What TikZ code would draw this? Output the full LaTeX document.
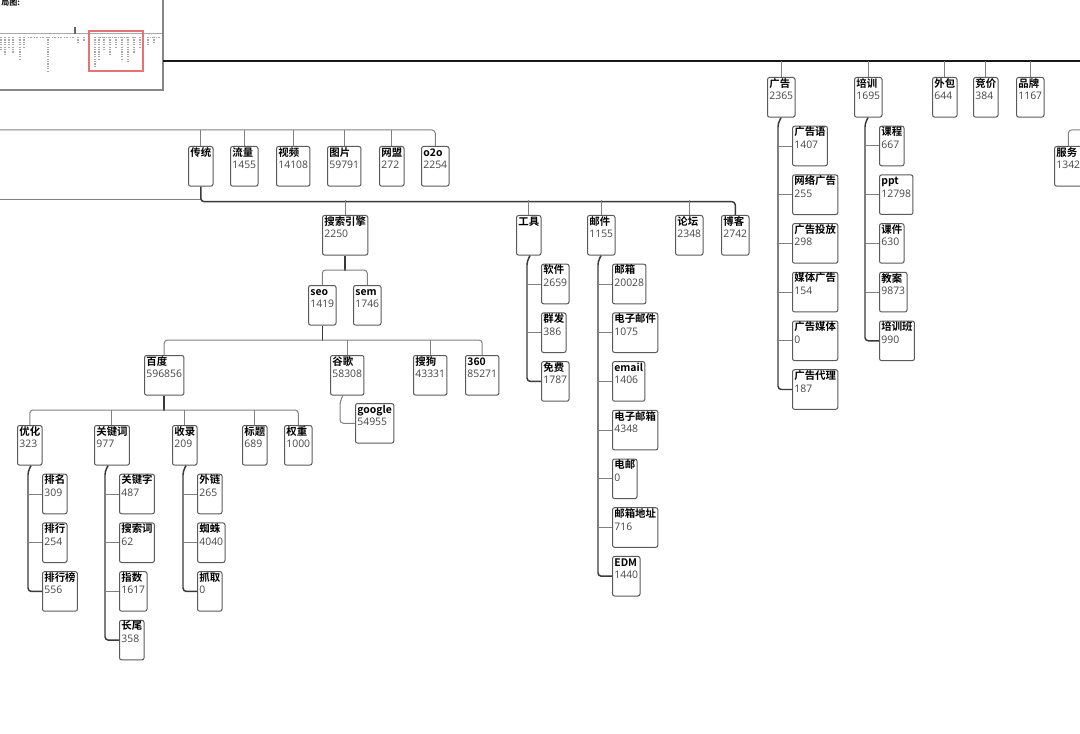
\documentclass[tikz,border=0pt]{standalone}
\usepackage{fontspec}
\newfontfamily\cjkfont{Noto Sans CJK SC}[BoldFont={* Bold}]
\newfontfamily\numfont{Open Sans}
\definecolor{cardline}{HTML}{5A5A5A}
\definecolor{numgray}{HTML}{454545}
\definecolor{twiggray}{HTML}{808080}
\definecolor{spinegray}{HTML}{3A3A3A}
\definecolor{minigray}{HTML}{A8A8A8}
\definecolor{viewred}{HTML}{E57373}
\newcommand{\cardfont}{\cjkfont\fontsize{7.8}{9.5}\selectfont}
\newcommand{\cardtxt}[2]{\strut\textbf{#1}\\\strut{\numfont\color{numgray}#2}\\\strut}

\begin{document}
\begin{tikzpicture}[x=0.75pt, y=-0.75pt,
  card/.style={draw=cardline, line width=0.75pt, fill=white, rounded corners=1.6pt,
    anchor=north west, align=left, inner xsep=1.4pt, inner ysep=0.6pt, font=\cardfont},
  twig/.style={draw=twiggray, line width=0.75pt, rounded corners=2.5pt},
  spine/.style={draw=spinegray, line width=1.1pt, rounded corners=2.5pt},
  rule/.style={draw=black!90, line width=1.2pt},
  minitext/.style={draw=minigray, line width=0.9pt, dash pattern=on 0.9pt off 0.9pt}]
  \useasboundingbox (0,0) rectangle (1080,734);
  \clip (0,0) rectangle (1080,734);
  \fill[white] (0,0) rectangle (1080,734);

  % overview map
  \fill[white] (0,0) rectangle (163,90);
  \draw[minigray!80!black, line width=1.8pt] (-3,-3) rectangle (163,90);
  \node[anchor=north west, inner sep=0, font=\cjkfont\bfseries\fontsize{6}{6}\selectfont] (maptitle) at (1,-1.5) {局图:};
  \draw[minigray, line width=0.6pt] (0,33.5) -- (162,33.5);
  \draw[black!60, line width=0.8pt] (75,27) -- (75,34);
  \foreach \x/\h in {1/14,5/18,9/10,13/16,20/22,24/12,48/34,78/6,84/4,95/30,99/22,104/14,110/18,116/10,122/24,128/26,134/16,140/12,148/8,154/6}
    \draw[minitext] (\x,37) -- ++(0,\h);
  \foreach \x in {28,34,40,46,52,58,64,70,100,106,112,118,124,132,150,156}
    \draw[minitext] (\x,37.5) -- ++(4,0);
  \draw[viewred, line width=0.8pt] (89,31) rectangle (143,71);

  % top row
  \node[card] (gg) at (767,77) {\cardtxt{广告}{2365}};
  \node[card] (px) at (854,77) {\cardtxt{培训}{1695}};
  \node[card] (wb) at (932,77) {\cardtxt{外包}{644}};
  \node[card] (jj) at (973,77) {\cardtxt{竞价}{384}};
  \node[card] (pp) at (1016,77) {\cardtxt{品牌}{1167}};
  \node[card] (fw) at (1054,146) {\cardtxt{服务}{1342}};
  \draw[rule] (163,61) -- (1080,61);
  \foreach \n in {gg,px,wb,jj,pp}
    \draw[twig] (\n.north) -- ++(0,-16);
  \draw[twig] (1080,130) -| (fw.north);

  % second row
  \node[card] (ct) at (188,146) {\cardtxt{传统}{}};
  \node[card] (ll) at (230,146) {\cardtxt{流量}{1455}};
  \node[card] (sp) at (276,146) {\cardtxt{视频}{14108}};
  \node[card] (tp) at (327,146) {\cardtxt{图片}{59791}};
  \node[card] (wm) at (379,146) {\cardtxt{网盟}{272}};
  \node[card] (oto) at (421,146) {\cardtxt{o2o}{2254}};
  \draw[twig] (0,130) -| (oto.north);
  \foreach \n in {ct,ll,sp,tp,wm}
    \draw[twig] (\n.north) -- ++(0,-16);

  % children of 传统
  \node[card] (ss) at (322,215) {\cardtxt{搜索引擎}{2250}};
  \node[card] (gj) at (516,215) {\cardtxt{工具}{}};
  \node[card] (yj) at (587,215) {\cardtxt{邮件}{1155}};
  \node[card] (lt) at (675,215) {\cardtxt{论坛}{2348}};
  \node[card] (bk) at (721,215) {\cardtxt{博客}{2742}};
  \draw[twig] (0,200) -- (ct.south |- 0,200);
  \draw[spine] (ct.south) -- ++(0,15) -| (bk.north);
  \foreach \n in {ss,gj,yj,lt}
    \draw[twig] (\n.north) -- ++(0,-15);

  % search engines
  \node[card] (seo) at (308,285) {\cardtxt{seo}{1419}};
  \node[card] (sem) at (353,285) {\cardtxt{sem}{1746}};
  \draw[spine] (ss.south) -- ++(0,15);
  \draw[twig] (seo.north) -- ++(0,-15) -| (sem.north);
  \node[card] (bd) at (144,355) {\cardtxt{百度}{596856}};
  \node[card] (gge) at (330,355) {\cardtxt{谷歌}{58308}};
  \node[card] (sg) at (413,355) {\cardtxt{搜狗}{43331}};
  \node[card] (sz) at (465,355) {\cardtxt{360}{85271}};
  \draw[spine] (seo.south) -- ++(0,15);
  \draw[twig] (bd.north) -- ++(0,-15) -| (sz.north);
  \foreach \n in {gge,sg}
    \draw[twig] (\n.north) -- ++(0,-15);
  \node[card] (google) at (355,403) {\cardtxt{google}{54955}};
  \draw[twig] (gge.south west) ++(13,0) -- ++(-3,6) |- (google.west);

  % children of 百度
  \node[card] (yh) at (17,425) {\cardtxt{优化}{323}};
  \node[card] (gjc) at (94,425) {\cardtxt{关键词}{977}};
  \node[card] (sl) at (172,425) {\cardtxt{收录}{209}};
  \node[card] (bt) at (242,425) {\cardtxt{标题}{689}};
  \node[card] (qz) at (284,425) {\cardtxt{权重}{1000}};
  \draw[spine] (bd.south) -- ++(0,15);
  \draw[twig] (yh.north) -- ++(0,-15) -| (qz.north);
  \foreach \n in {gjc,sl,bt}
    \draw[twig] (\n.north) -- ++(0,-15);

  % lists
  \foreach \lbl/\val [count=\i] in {排名/309,排行/254,排行榜/556}
    \node[card] (yh\i) at (42,{425+48.7*\i}) {\cardtxt{\lbl}{\val}};
  \draw[spine] (yh.south west) ++(14,0) -- ++(-3,6) |- (yh3.west);
  \foreach \i in {1,2}
    \draw[twig] (yh\i.west) -- ++(-14,0);

  \foreach \lbl/\val [count=\i] in {关键字/487,搜索词/62,指数/1617,长尾/358}
    \node[card] (gjc\i) at (119,{425+48.7*\i}) {\cardtxt{\lbl}{\val}};
  \draw[spine] (gjc.south west) ++(14,0) -- ++(-3,6) |- (gjc4.west);
  \foreach \i in {1,2,3}
    \draw[twig] (gjc\i.west) -- ++(-14,0);

  \foreach \lbl/\val [count=\i] in {外链/265,蜘蛛/4040,抓取/0}
    \node[card] (sl\i) at (197,{425+48.7*\i}) {\cardtxt{\lbl}{\val}};
  \draw[spine] (sl.south west) ++(14,0) -- ++(-3,6) |- (sl3.west);
  \foreach \i in {1,2}
    \draw[twig] (sl\i.west) -- ++(-14,0);

  \foreach \lbl/\val [count=\i] in {软件/2659,群发/386,免费/1787}
    \node[card] (gj\i) at (541,{215+48.7*\i}) {\cardtxt{\lbl}{\val}};
  \draw[spine] (gj.south west) ++(14,0) -- ++(-3,6) |- (gj3.west);
  \foreach \i in {1,2}
    \draw[twig] (gj\i.west) -- ++(-14,0);

  \foreach \lbl/\val [count=\i] in {邮箱/20028,电子邮件/1075,email/1406,电子邮箱/4348,电邮/0,邮箱地址/716,EDM/1440}
    \node[card] (yj\i) at (612,{215+48.7*\i}) {\cardtxt{\lbl}{\val}};
  \draw[spine] (yj.south west) ++(14,0) -- ++(-3,6) |- (yj7.west);
  \foreach \i in {1,...,6}
    \draw[twig] (yj\i.west) -- ++(-14,0);

  \foreach \lbl/\val [count=\i] in {广告语/1407,网络广告/255,广告投放/298,媒体广告/154,广告媒体/0,广告代理/187}
    \node[card] (gg\i) at (792,{77+48.7*\i}) {\cardtxt{\lbl}{\val}};
  \draw[spine] (gg.south west) ++(14,0) -- ++(-3,6) |- (gg6.west);
  \foreach \i in {1,...,5}
    \draw[twig] (gg\i.west) -- ++(-14,0);

  \foreach \lbl/\val [count=\i] in {课程/667,ppt/12798,课件/630,教案/9873,培训班/990}
    \node[card] (px\i) at (879,{77+48.7*\i}) {\cardtxt{\lbl}{\val}};
  \draw[spine] (px.south west) ++(14,0) -- ++(-3,6) |- (px5.west);
  \foreach \i in {1,...,4}
    \draw[twig] (px\i.west) -- ++(-14,0);
\end{tikzpicture}
\end{document}
